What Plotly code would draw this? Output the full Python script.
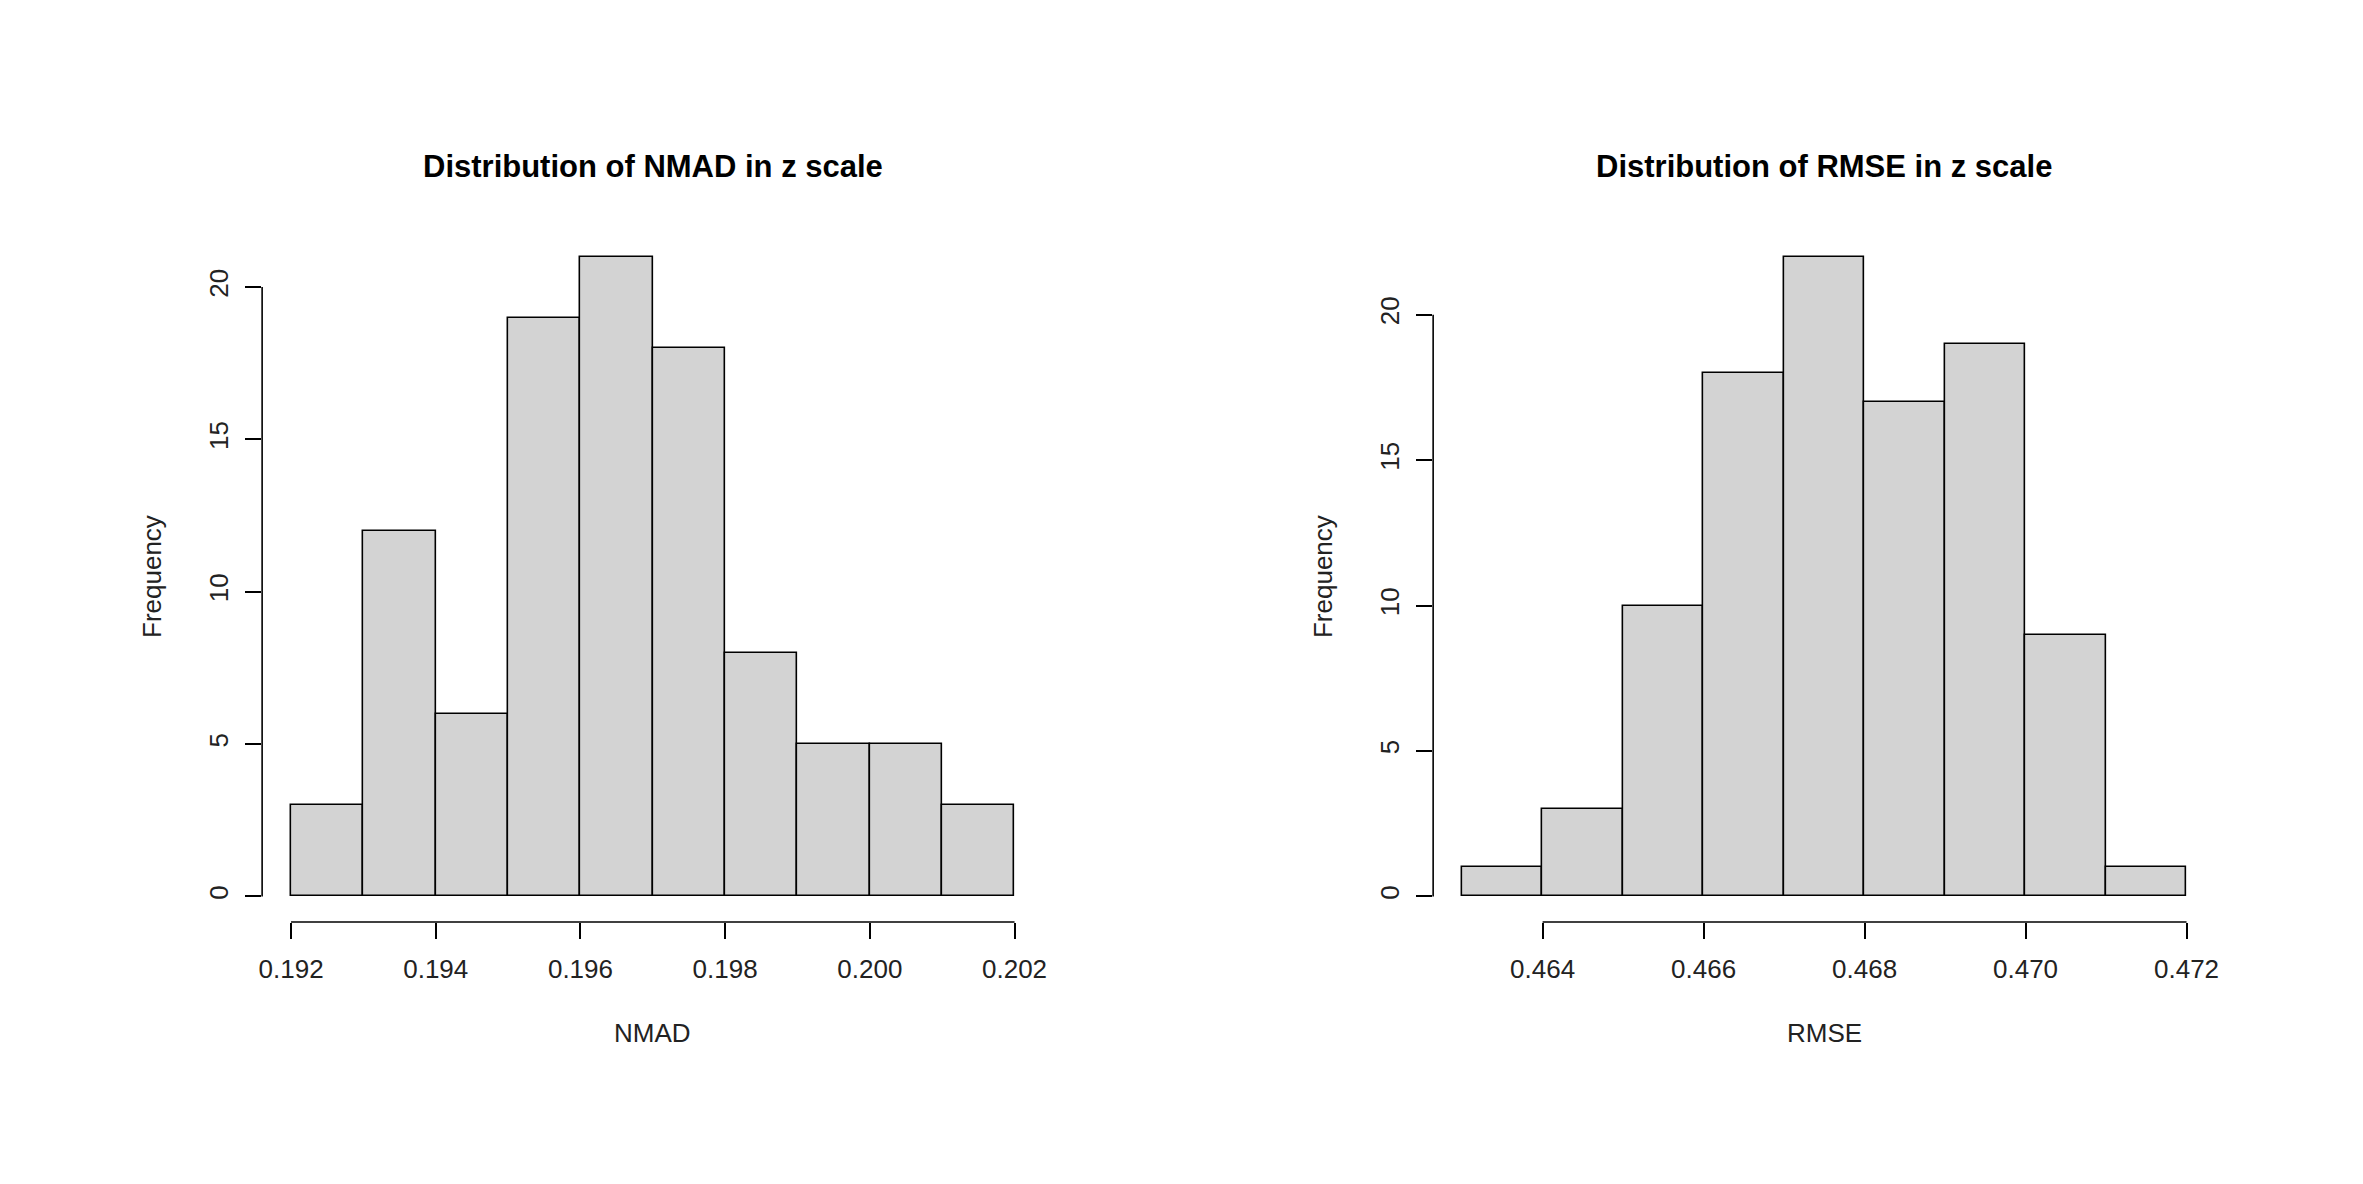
import numpy as np
import plotly.graph_objects as go
from plotly.subplots import make_subplots

# histogram bins (left edges, width 0.001) and counts
nmad_edges = [0.192, 0.193, 0.194, 0.195, 0.196, 0.197, 0.198, 0.199, 0.200, 0.201, 0.202]
nmad_counts = [3, 12, 6, 19, 21, 18, 8, 5, 5, 3]
nmad_xticks = [0.192, 0.194, 0.196, 0.198, 0.200, 0.202]
nmad_yticks = [0, 5, 10, 15, 20]

rmse_edges = [0.463, 0.464, 0.465, 0.466, 0.467, 0.468, 0.469, 0.470, 0.471, 0.472]
rmse_counts = [1, 3, 10, 18, 22, 17, 19, 9, 1]
rmse_xticks = [0.464, 0.466, 0.468, 0.470, 0.472]
rmse_yticks = [0, 5, 10, 15, 20]

W, H = 2363, 1184
FONT = "Liberation Sans, Arial, sans-serif"


def usr(lo, hi):
    # R extends the plotting range by 4% on each side
    pad = 0.04 * (hi - lo)
    return [lo - pad, hi + pad]


fig = make_subplots(rows=1, cols=2)

panels = [
    (nmad_edges, nmad_counts, nmad_xticks, nmad_yticks, "NMAD",
     "Distribution of NMAD in z scale", [259 / W, 1043 / W]),
    (rmse_edges, rmse_counts, rmse_xticks, rmse_yticks, "RMSE",
     "Distribution of RMSE in z scale", [1434 / W, 2219 / W]),
]
ydom = [1 - 922 / H, 1 - 231 / H]

for i, (edges, counts, xt, yt, xlab, title, xdom) in enumerate(panels):
    col = i + 1
    edges = np.array(edges)
    centers = (edges[:-1] + edges[1:]) / 2
    fig.add_trace(go.Bar(x=centers, y=counts, width=np.diff(edges),
                         marker=dict(color="#d3d3d3", line=dict(color="black", width=1.6)),
                         showlegend=False, hoverinfo="x+y"), row=1, col=col)
    fig.update_xaxes(domain=xdom, range=usr(edges[0], edges[-1]), tickvals=xt,
                     ticktext=[f"{v:.3f}" for v in xt], ticks="outside", ticklen=16,
                     tickwidth=1.6, tickcolor="black", showline=False, showgrid=False,
                     zeroline=False, ticklabelstandoff=8,
                     tickfont=dict(family=FONT, size=26, color="#222"),
                     row=1, col=col)
    fig.update_yaxes(domain=ydom, range=usr(0, max(counts)), tickvals=yt,
                     ticks="outside", ticklen=16, tickwidth=1.6, tickcolor="black",
                     tickangle=-90, showline=False, showgrid=False, zeroline=False,
                     ticklabelstandoff=7,
                     tickfont=dict(family=FONT, size=26, color="#222"), row=1, col=col)
    xr = "x" if col == 1 else "x2"
    yr = "y" if col == 1 else "y2"
    # detached R-style axis lines, spanning first to last tick
    fig.add_shape(type="line", xref=xr, yref=yr + " domain", x0=xt[0], x1=xt[-1], y0=0, y1=0,
                  line=dict(color="black", width=1.6))
    fig.add_shape(type="line", xref=xr + " domain", yref=yr, x0=0, x1=0, y0=yt[0], y1=yt[-1],
                  line=dict(color="black", width=1.6))
    fig.add_annotation(text=f"<b>{title}</b>", xref=xr + " domain", yref="paper",
                       x=0.5, y=1 - 167 / H, xanchor="center", yanchor="middle",
                       showarrow=False, font=dict(family=FONT, size=31, color="black"))
    fig.add_annotation(text=xlab, xref=xr + " domain", yref="paper",
                       x=0.5, y=1 - 1033 / H, xanchor="center", yanchor="middle",
                       showarrow=False, font=dict(family=FONT, size=26, color="#222"))
    fig.add_annotation(text="Frequency", xref=xr + " domain", yref=yr + " domain",
                       x=-111 / ((xdom[1] - xdom[0]) * W), y=0.5, textangle=-90,
                       xanchor="center", yanchor="middle",
                       showarrow=False, font=dict(family=FONT, size=26, color="#222"))

fig.update_layout(width=W, height=H, margin=dict(l=0, r=0, t=0, b=0),
                  plot_bgcolor="white", paper_bgcolor="white", bargap=0)

# drop the default 8px page margin so the figure sits at the window origin
fig.write_html("out.html", config={"displayModeBar": False},
               post_script="document.body.style.margin='0';")
